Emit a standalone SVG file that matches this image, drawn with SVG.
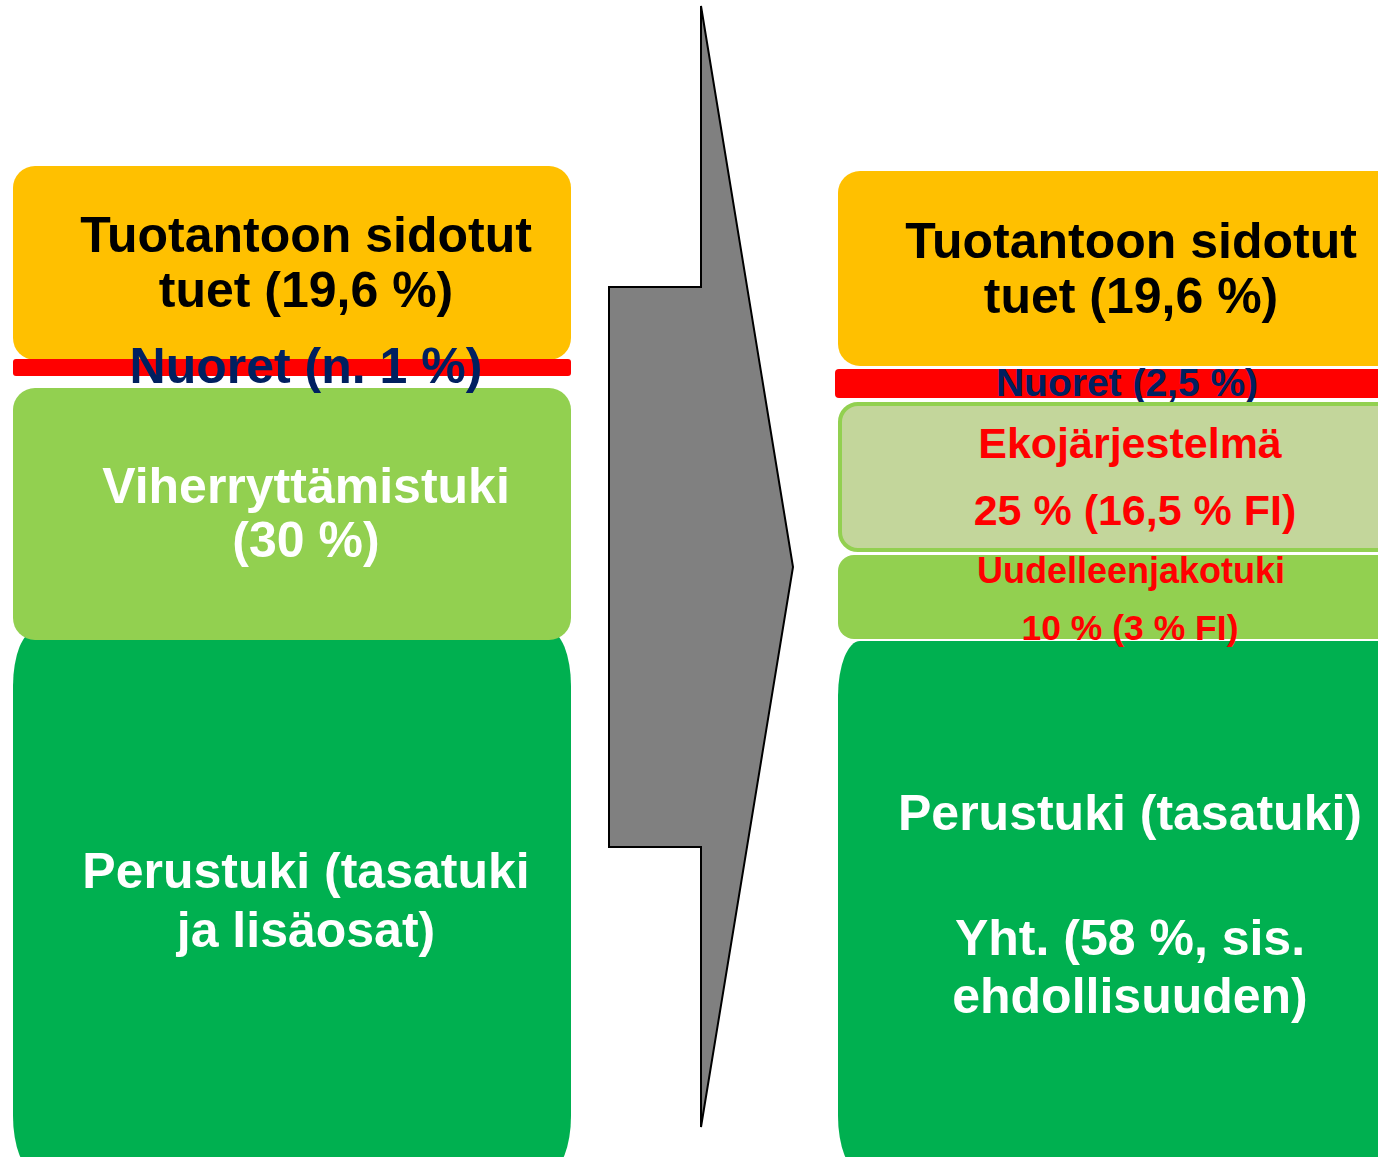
<svg xmlns="http://www.w3.org/2000/svg" width="1378" height="1157" viewBox="0 0 1378 1157">
<style>
.t{font-family:"Liberation Sans",Arial,sans-serif;font-weight:bold;text-anchor:middle}
.big{font-size:50px}
.blk{fill:#000000}
.wht{fill:#FFFFFF}
.navy{fill:#002060}
.red{fill:#FF0000}
.yel{fill:#FFC000}
.lg{fill:#92D050}
.dg{fill:#00B050}
.rb{fill:#FF0000}
</style>
<rect width="1378" height="1157" fill="#FFFFFF"/>
<g id="connectors">
<polygon points="701,6 793,567 701,1127 701,847 609,847 609,287 701,287" fill="#808080" stroke="#000000" stroke-width="2" stroke-linejoin="miter"/>
</g>
<g id="left-perustuki">
<rect x="13" y="631" width="558" height="540" rx="22" ry="55" class="dg"/>
<text class="t big wht" x="306" y="888">Perustuki (tasatuki</text>
<text class="t big wht" x="306" y="947">ja lisäosat)</text>
</g>
<g id="left-tuotanto">
<rect x="13" y="166" width="558" height="194" rx="22" ry="22" class="yel"/>
<text class="t big blk" x="306" y="252">Tuotantoon sidotut</text>
<text class="t big blk" x="306" y="307">tuet (19,6 %)</text>
</g>
<g id="left-viher">
<rect x="13" y="388" width="558" height="252" rx="22" ry="22" class="lg"/>
<text class="t big wht" x="306" y="503">Viherryttämistuki</text>
<text class="t big wht" x="306" y="557">(30 %)</text>
</g>
<g id="left-nuoret">
<rect x="13" y="359" width="558" height="17" rx="3" ry="3" class="rb"/>
<text class="t big navy" x="306" y="383">Nuoret (n. 1 %)</text>
</g>
<g id="right-perustuki">
<rect x="838" y="641" width="580" height="530" rx="22" ry="55" class="dg"/>
<text class="t big wht" x="1130" y="830">Perustuki (tasatuki)</text>
<text class="t big wht" x="1130" y="955">Yht. (58 %, sis.</text>
<text class="t big wht" x="1130" y="1013">ehdollisuuden)</text>
</g>
<g id="right-tuotanto">
<rect x="838" y="171" width="580" height="195" rx="22" ry="22" class="yel"/>
<text class="t big blk" x="1131" y="258">Tuotantoon sidotut</text>
<text class="t big blk" x="1131" y="313">tuet (19,6 %)</text>
</g>
<g id="right-nuoret">
<rect x="835" y="369" width="580" height="29" rx="4" ry="4" class="rb"/>
<text class="t navy" x="1127" y="396" font-size="39">Nuoret (2,5 %)</text>
</g>
<g id="right-eko">
<rect x="840" y="404" width="580" height="146" rx="18" ry="18" fill="#C3D69B" stroke="#92D050" stroke-width="4"/>
<text class="t red" x="1130" y="458" font-size="43">Ekojärjestelmä</text>
<text class="t red" x="1135" y="525" font-size="43">25 % (16,5 % FI)</text>
</g>
<g id="right-uudelleen">
<rect x="838" y="555" width="580" height="84" rx="16" ry="16" class="lg"/>
<text class="t red" x="1131" y="583" font-size="36">Uudelleenjakotuki</text>
<text class="t red" x="1130" y="640" font-size="35.5">10 % (3 % FI)</text>
</g>
</svg>
